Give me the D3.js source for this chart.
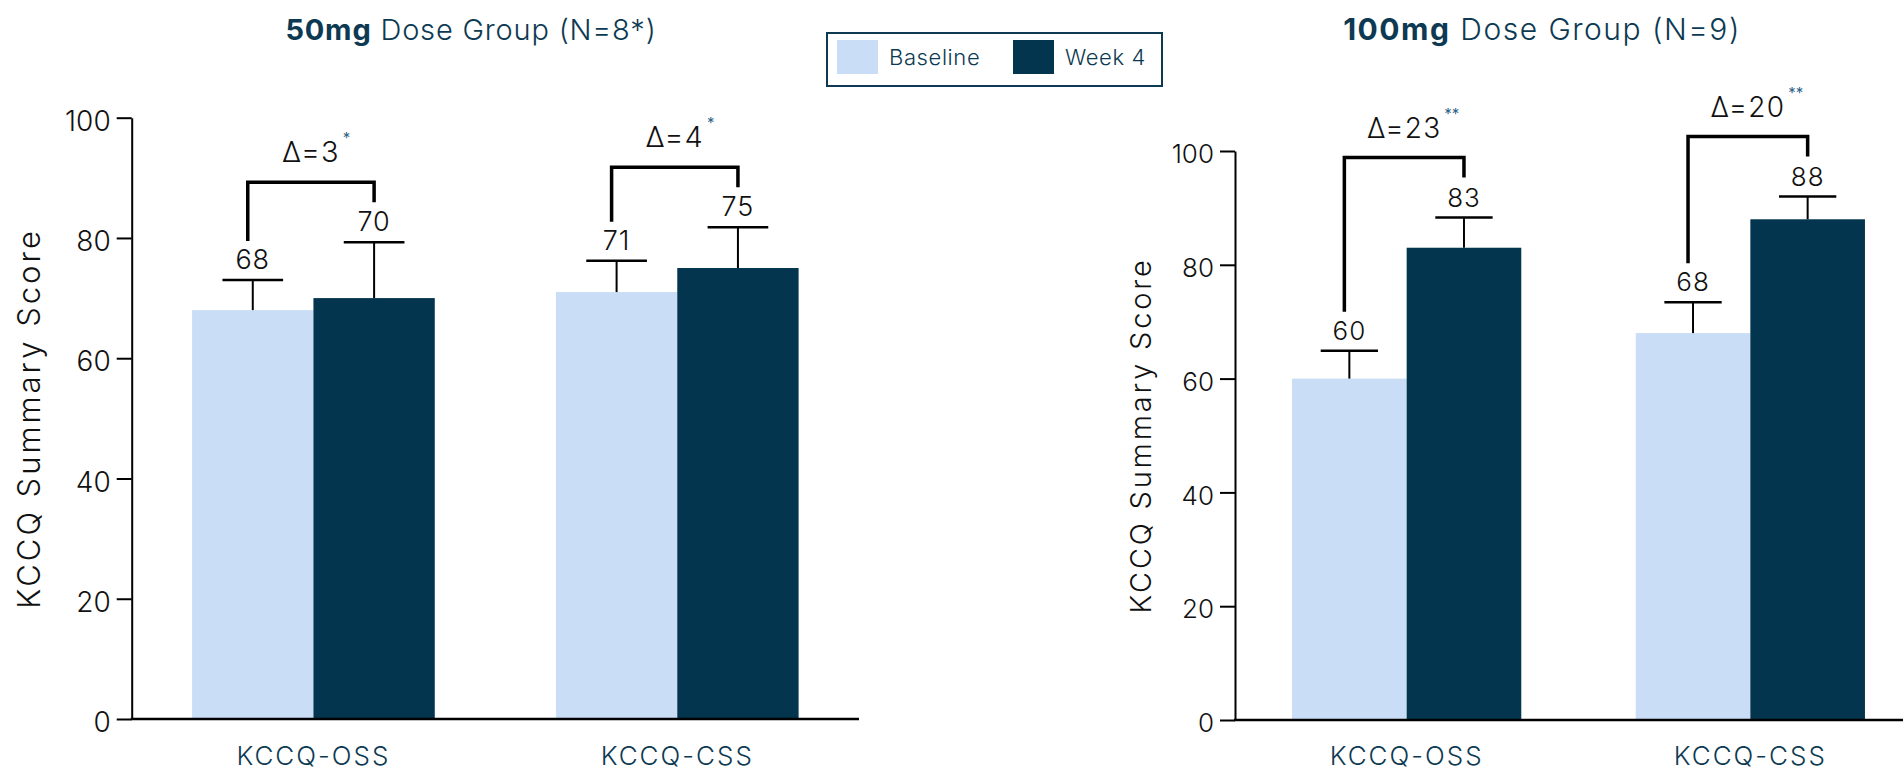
<!DOCTYPE html>
<html>
<head>
<meta charset="utf-8">
<script src="https://cdn.jsdelivr.net/npm/d3@7"></script>
<style>
  html, body { margin: 0; padding: 0; background: #ffffff; }
  svg { display: block; font-family: "Inter", "Noto Sans", "DejaVu Sans", sans-serif; }
</style>
</head>
<body>
<script>
// ---- data ----
const categories = ["KCCQ-OSS", "KCCQ-CSS"];
const seriesNames = ["Baseline", "Week 4"];
const yTicks = [0, 20, 40, 60, 80, 100];

// 50mg dose group
const dose50Baseline = [68, 71];
const dose50Week4 = [70, 75];
const dose50BaselineErr = [5, 5.2];
const dose50Week4Err = [9.3, 6.8];
const dose50Delta = ["Δ=3", "Δ=4"];
const dose50Sig = ["*", "*"];

// 100mg dose group
const dose100Baseline = [60, 68];
const dose100Week4 = [83, 88];
const dose100BaselineErr = [4.9, 5.4];
const dose100Week4Err = [5.3, 4.0];
const dose100Delta = ["Δ=23", "Δ=20"];
const dose100Sig = ["**", "**"];

const colors = { "Baseline": "#c9ddf6", "Week 4": "#03354f" };
const textTeal = "#0d3a52";
const sigBlue = "#2f6488";

const W = 1903, H = 771;
const svg = d3.select("body").append("svg").attr("width", W).attr("height", H);

function drawPanel(p) {
  const g = svg.append("g");
  const x0 = d3.scaleBand().domain(categories).range([p.left, p.right])
    .paddingInner(0.333).paddingOuter(0.166);
  const x1 = d3.scaleBand().domain(seriesNames).range([0, x0.bandwidth()]);
  const y = d3.scaleLinear().domain([0, 100]).range([p.bottom, p.top]);

  const rows = categories.map((c, i) => ({
    cat: c,
    vals: [
      { s: "Baseline", v: p.baseline[i], e: p.baselineErr[i] },
      { s: "Week 4", v: p.week4[i], e: p.week4Err[i] }
    ],
    delta: p.delta[i],
    sig: p.sig[i]
  }));

  // bars
  const grp = g.selectAll("g.cat").data(rows).join("g")
    .attr("class", "cat")
    .attr("transform", d => `translate(${x0(d.cat)},0)`);

  grp.selectAll("rect").data(d => d.vals).join("rect")
    .attr("x", d => x1(d.s))
    .attr("y", d => y(d.v))
    .attr("width", x1.bandwidth())
    .attr("height", d => y(0) - y(d.v))
    .attr("fill", d => colors[d.s]);

  // error bars (upper whisker)
  const bw = x1.bandwidth();
  grp.selectAll("line.err").data(d => d.vals).join("line")
    .attr("class", "err")
    .attr("x1", d => x1(d.s) + bw / 2).attr("x2", d => x1(d.s) + bw / 2)
    .attr("y1", d => y(d.v)).attr("y2", d => y(d.v + d.e))
    .attr("stroke", "#000").attr("stroke-width", 2);
  grp.selectAll("line.cap").data(d => d.vals).join("line")
    .attr("class", "cap")
    .attr("x1", d => x1(d.s) + bw / 4).attr("x2", d => x1(d.s) + bw * 3 / 4)
    .attr("y1", d => y(d.v + d.e)).attr("y2", d => y(d.v + d.e))
    .attr("stroke", "#000").attr("stroke-width", 2.5);

  // value labels
  grp.selectAll("text.val").data(d => d.vals).join("text")
    .attr("class", "val")
    .attr("x", d => x1(d.s) + bw / 2)
    .attr("y", d => y(d.v + d.e) - 11)
    .attr("text-anchor", "middle")
    .attr("font-size", p.valSize)
    .attr("letter-spacing", 1)
    .attr("font-weight", 300)
    .attr("fill", "#111")
    .text(d => d.v);

  // comparison brackets with delta labels
  grp.each(function (d) {
    const sel = d3.select(this);
    const b = d.vals[0], w = d.vals[1];
    const lx = x1(b.s) + bw / 2 - 5;
    const rx = x1(w.s) + bw / 2;
    const lb = y(b.v + b.e) - 39;
    const rb = y(w.v + w.e) - 40;
    const top = Math.min(lb, rb) - 20;
    sel.append("path")
      .attr("d", `M${lx},${lb}V${top}H${rx}V${rb}`)
      .attr("fill", "none").attr("stroke", "#000")
      .attr("stroke-width", 3.5).attr("stroke-linejoin", "miter");
    const cx = (lx + rx) / 2;
    const t = sel.append("text")
      .attr("x", cx).attr("y", top - 20)
      .attr("text-anchor", "middle")
      .attr("font-size", p.deltaSize)
      .attr("letter-spacing", 1.2)
      .attr("font-weight", 300)
      .attr("fill", "#111")
      .text(d.delta);
    const tw = t.node().getComputedTextLength();
    sel.append("text")
      .attr("x", cx + tw / 2 + 3).attr("y", top - 39)
      .attr("font-size", 15)
      .attr("fill", sigBlue)
      .text(d.sig);
  });

  // y axis
  const ya = g.append("g")
    .attr("transform", `translate(${p.left},0)`)
    .call(d3.axisLeft(y).tickValues(yTicks).tickSize(15).tickSizeOuter(0).tickPadding(6));
  ya.attr("font-family", null);
  ya.select(".domain").attr("stroke", "#000").attr("stroke-width", 2);
  ya.selectAll(".tick line").attr("stroke", "#000").attr("stroke-width", 2);
  ya.selectAll(".tick text")
    .attr("font-size", p.tickSize).attr("font-weight", 300)
    .attr("fill", "#111")
    .attr("dy", "0.45em");

  // x baseline
  g.append("line")
    .attr("x1", p.left - 1).attr("x2", p.right)
    .attr("y1", y(0)).attr("y2", y(0))
    .attr("stroke", "#000").attr("stroke-width", 2.5);

  // category labels
  g.selectAll("text.cat").data(categories).join("text")
    .attr("class", "cat")
    .attr("x", d => x0(d) + x0.bandwidth() / 2)
    .attr("y", p.catY)
    .attr("text-anchor", "middle")
    .attr("font-size", p.catSize)
    .attr("letter-spacing", 2)
    .attr("font-weight", 300)
    .attr("fill", textTeal)
    .text(d => d);

  // y axis title
  g.append("text")
    .attr("transform", `translate(${p.yTitleX},${(p.top + p.bottom) / 2}) rotate(-90)`)
    .attr("text-anchor", "middle")
    .attr("dominant-baseline", "central")
    .attr("font-size", p.yTitleSize)
    .attr("letter-spacing", p.yTitleSpacing)
    .attr("font-weight", 300)
    .attr("fill", "#111")
    .text("KCCQ Summary Score");

  // panel title
  const tt = g.append("text")
    .attr("x", p.titleX).attr("y", 40)
    .attr("text-anchor", "middle")
    .attr("font-size", p.titleSize)
    .attr("letter-spacing", p.titleSpacing)
    .attr("fill", textTeal);
  tt.append("tspan").attr("font-weight", 700).text(p.titleBold);
  tt.append("tspan").attr("font-weight", 300).text(p.titleRest);
}

drawPanel({
  left: 131.7, right: 859, top: 117.7, bottom: 719,
  baseline: dose50Baseline, week4: dose50Week4,
  baselineErr: dose50BaselineErr, week4Err: dose50Week4Err,
  delta: dose50Delta, sig: dose50Sig,
  titleBold: "50mg", titleRest: " Dose Group (N=8*)", titleX: 471,
  titleSize: 29, titleSpacing: 0.8,
  valSize: 27, deltaSize: 29, tickSize: 28, catSize: 26,
  yTitleSize: 31, yTitleSpacing: 3, yTitleX: 28, catY: 765
});

drawPanel({
  left: 1235, right: 1922, top: 151, bottom: 720,
  baseline: dose100Baseline, week4: dose100Week4,
  baselineErr: dose100BaselineErr, week4Err: dose100Week4Err,
  delta: dose100Delta, sig: dose100Sig,
  titleBold: "100mg", titleRest: " Dose Group (N=9)", titleX: 1542,
  titleSize: 30, titleSpacing: 1.5,
  valSize: 26, deltaSize: 28, tickSize: 26, catSize: 26,
  yTitleSize: 29, yTitleSpacing: 2.8, yTitleX: 1140, catY: 765
});

// legend
const legend = svg.append("g");
legend.append("rect")
  .attr("x", 827).attr("y", 33).attr("width", 335).attr("height", 53)
  .attr("fill", "#fff").attr("stroke", textTeal).attr("stroke-width", 2);
const legendX = [837, 1013];
const items = legend.selectAll("g.item").data(seriesNames).join("g")
  .attr("class", "item")
  .attr("transform", (d, i) => `translate(${legendX[i]},40)`);
items.append("rect").attr("width", 41).attr("height", 34).attr("fill", d => colors[d]);
items.append("text")
  .attr("x", 52).attr("y", 17).attr("dy", "0.35em")
  .attr("font-size", 22).attr("letter-spacing", 0.6).attr("font-weight", 300)
  .attr("fill", textTeal)
  .text(d => d);
</script>
</body>
</html>
